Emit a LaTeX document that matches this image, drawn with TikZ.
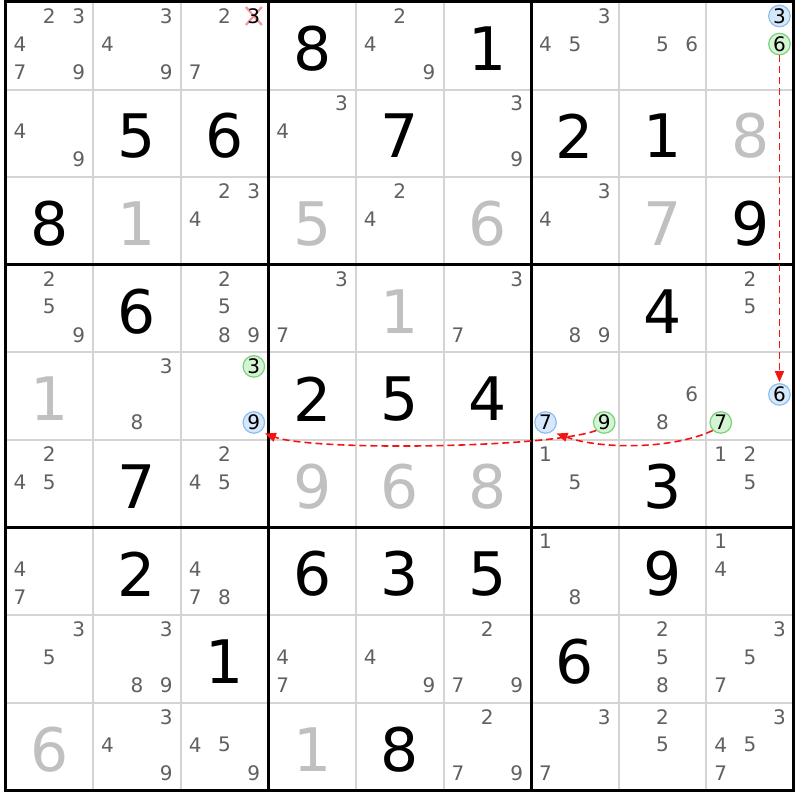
\documentclass[tikz,border=0pt]{standalone}
\usepackage{fontspec}
\setmainfont{DejaVu Sans}
\usepackage{tikz}
\usetikzlibrary{arrows.meta}
\definecolor{candgray}{RGB}{96,96,96}
\definecolor{solvedgray}{RGB}{192,192,192}
\definecolor{gridgray}{RGB}{212,212,212}
\definecolor{bluefill}{RGB}{214,232,250}
\definecolor{blueline}{RGB}{140,190,240}
\definecolor{greenfill}{RGB}{212,244,212}
\definecolor{greenline}{RGB}{120,210,120}
\definecolor{chainred}{RGB}{245,20,20}
\definecolor{crosspink}{RGB}{245,150,160}
\newcommand{\cellsz}{87.6}
\tikzset{
    given/.style={inner sep=0pt, font=\fontsize{60}{60}\selectfont},
    solved/.style={given, text=solvedgray},
    cand/.style={inner sep=0pt, font=\fontsize{20}{20}\selectfont, text=candgray},
    ringed/.style={cand, text=black, circle, minimum size=21.5pt, fill=#1fill, draw=#1line, line width=1.2pt},
    thin line/.style={gridgray, line width=2pt},
    thick line/.style={black, line width=3pt},
    chain/.style={chainred, dash pattern=on 7pt off 4pt, line width=1.6pt, -{Triangle[length=11pt,width=9pt]}},
    cross/.style={crosspink, line width=2.2pt}
}
\begin{document}
\begin{tikzpicture}[x=1pt,y=1pt]
            \useasboundingbox (0,0) rectangle (800,800);
            \fill[white] (0,0) rectangle (800,800);
            \foreach \i in {1,2,4,5,7,8}{
                \draw[thin line] ({5.5+\i*\cellsz},798) -- ({5.5+\i*\cellsz},{798-9*\cellsz});
                \draw[thin line] (5.5,{798-\i*\cellsz}) -- ({5.5+9*\cellsz},{798-\i*\cellsz});
            }
            \foreach \i in {3,6}{
                \draw[thick line] ({5.5+\i*\cellsz},798) -- ({5.5+\i*\cellsz},{798-9*\cellsz});
                \draw[thick line] (5.5,{798-\i*\cellsz}) -- ({5.5+9*\cellsz},{798-\i*\cellsz});
            }
            \draw[thick line] (5.5,798) rectangle ({5.5+9*\cellsz},{798-9*\cellsz});
            % givens and solved cells
            \foreach \r/\c/\d in {1/4/8,1/6/1,2/2/5,2/3/6,2/5/7,2/7/2,2/8/1,3/1/8,3/9/9,4/2/6,4/8/4,5/4/2,5/5/5,5/6/4,6/2/7,6/8/3,7/2/2,7/4/6,7/5/3,7/6/5,7/8/9,8/3/1,8/7/6,9/5/8}
                \node[given] (g\r\c) at ({5.5+(\c-0.5)*\cellsz},{798-(\r-0.47)*\cellsz}) {\d};
            \foreach \r/\c/\d in {2/9/8,3/2/1,3/4/5,3/6/6,3/8/7,4/5/1,5/1/1,6/4/9,6/5/6,6/6/8,9/1/6,9/4/1}
                \node[solved] (g\r\c) at ({5.5+(\c-0.5)*\cellsz},{798-(\r-0.47)*\cellsz}) {\d};
            % candidates
            \foreach \r/\c/\ds in {1/1/{2,3,4,7,9},1/2/{3,4,9},1/3/{2,7},1/5/{2,4,9},1/7/{3,4,5},1/8/{5,6},2/1/{4,9},2/4/{3,4},2/6/{3,9},3/3/{2,3,4},3/5/{2,4},3/7/{3,4},4/1/{2,5,9},4/3/{2,5,8,9},4/4/{3,7},4/6/{3,7},4/7/{8,9},4/9/{2,5},5/2/{3,8},5/8/{6,8},6/1/{2,4,5},6/3/{2,4,5},6/7/{1,5},6/9/{1,2,5},7/1/{4,7},7/3/{4,7,8},7/7/{1,8},7/9/{1,4},8/1/{3,5},8/2/{3,8,9},8/4/{4,7},8/5/{4,9},8/6/{2,7,9},8/8/{2,5,8},8/9/{3,5,7},9/2/{3,4,9},9/3/{4,5,9},9/6/{2,7,9},9/7/{3,7},9/8/{2,5},9/9/{3,4,5,7}}
                \foreach \d in \ds
                    \node[cand] (k\r\c\d) at ({5.5+(\c-1+0.165+0.335*mod(\d-1,3))*\cellsz},{798-(\r-1+0.16+0.32*floor((\d-1)/3))*\cellsz}) {\d};
            \coordinate (x133) at ({5.5+(2+0.835)*\cellsz},{798-0.16*\cellsz});
            \draw[cross] ([shift={(-8,-9)}]x133) -- ([shift={(8,9)}]x133) ([shift={(-8,9)}]x133) -- ([shift={(8,-9)}]x133);
            \node[cand, text=black] (k133) at (x133) {3};
            % ringed candidates
            \foreach \r/\c/\d/\m in {1/9/3/blue,1/9/6/green,5/3/3/green,5/3/9/blue,5/7/7/blue,5/7/9/green,5/9/6/blue,5/9/7/green}
                \node[ringed=\m] (k\r\c\d) at ({5.5+(\c-1+0.165+0.335*mod(\d-1,3))*\cellsz},{798-(\r-1+0.16+0.32*floor((\d-1)/3))*\cellsz}) {\d};
            \draw[chain, shorten >=1pt] (k196) -- (k596);
            \draw[chain] (k597.225) to[out=205,in=-20,looseness=0.75] ([shift={(3,-3)}]k577.-45);
            \draw[chain] (k579.225) to[out=200,in=-20,looseness=0.4] ([shift={(3,-3)}]k539.-45);
        \end{tikzpicture}
\end{document}
